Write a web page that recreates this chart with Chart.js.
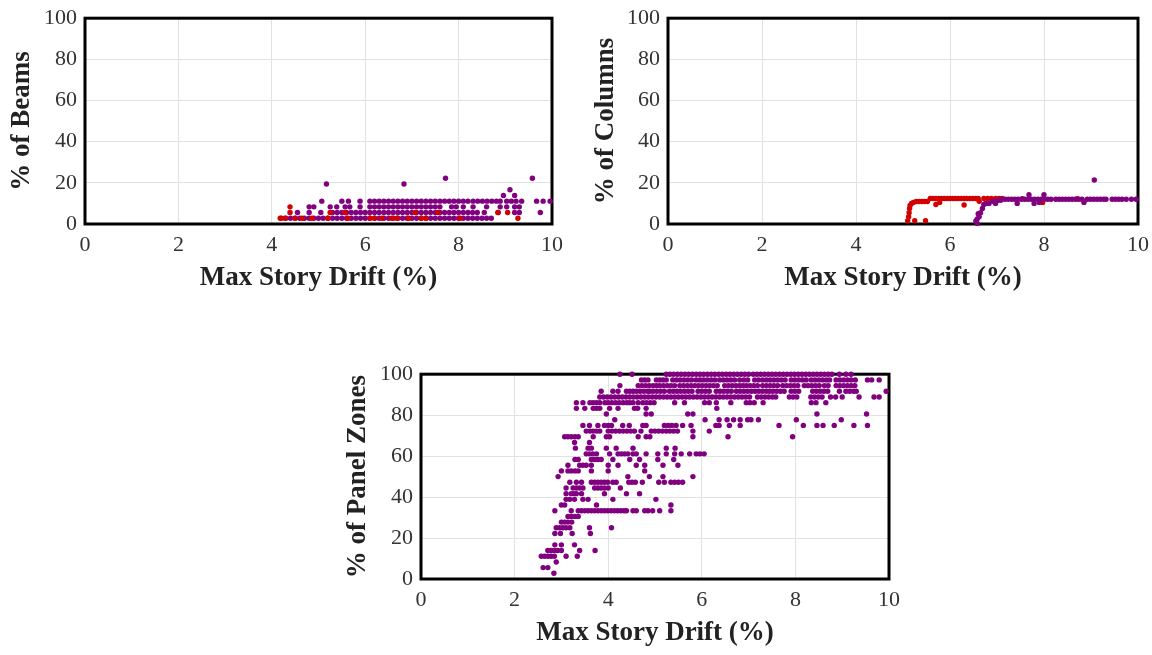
<!DOCTYPE html>
<html>
<head>
<meta charset="utf-8">
<script src="https://cdn.jsdelivr.net/npm/chart.js@4"></script>
<style>
  body { margin: 0; background: #fff; width: 1152px; height: 655px; position: relative; overflow: hidden; }
  canvas { position: absolute; }
</style>
</head>
<body>
<canvas id="beamsChart" style="left:0px;top:-3px;"></canvas>
<canvas id="columnsChart" style="left:584px;top:-3px;"></canvas>
<canvas id="panelChart" style="left:336px;top:353px;"></canvas>
<script>
// ---- data ----
var xTitle = 'Max Story Drift (%)';

// beams: one row of drift values per damage level
var beamLevels = [2.78, 5.56, 8.33, 11.11, 13.89, 16.67, 19.44, 22.22];
var beamPurpleRows = [
  [4.20,4.30,4.40,4.50,4.60,4.70,4.80,4.90,5.00,5.10,5.20,5.30,5.40,5.50,5.60,5.70,5.80,5.90,6.00,6.10,6.20,6.30,6.40,6.50,6.60,6.70,6.80,6.90,7.00,7.10,7.20,7.30,7.40,7.50,7.60,7.70,7.80,7.90,8.00,8.10,8.20,8.30,8.40,8.50,8.60,8.70],
  [4.55,4.80,5.05,5.30,5.40,5.50,5.60,5.70,5.80,5.90,6.00,6.10,6.20,6.30,6.40,6.50,6.60,6.70,6.80,6.90,7.00,7.10,7.20,7.30,7.40,7.50,7.60,7.70,7.80,7.90,8.00,8.10,8.20,8.30,8.40,8.55,8.85,9.20,9.30,9.75],
  [4.80,4.90,5.25,5.39,5.57,5.67,5.89,6.10,6.20,6.30,6.40,6.50,6.60,6.70,6.80,6.90,7.00,7.10,7.20,7.30,7.40,7.50,7.60,7.85,7.95,8.10,8.31,8.60,8.89,9.03,9.20,9.30],
  [5.07,5.50,5.64,5.89,6.10,6.20,6.30,6.40,6.50,6.60,6.70,6.80,6.90,7.00,7.10,7.20,7.30,7.40,7.50,7.60,7.70,7.80,7.90,8.00,8.10,8.20,8.31,8.41,8.51,8.61,8.71,8.81,8.89,9.03,9.13,9.23,9.35,9.67,9.81,9.96],
  [8.96,9.20],
  [9.10],
  [5.17,6.83],
  [7.72,9.58]
];
var beamRedRows = [
  [4.18,4.28,4.50,4.65,4.86,5.20,5.63,6.10,6.20,6.36,6.57,6.68,6.93,7.20,7.30,8.03,9.27],
  [4.39,5.25,5.57,7.07,7.56,8.84,9.05],
  [4.39],
  [], [], [], [], []
];

// columns: drift / percentage pairs
var colRedX = [5.10,5.25,5.48,5.12,5.13,5.14,5.15,5.18,5.22,5.28,5.34,5.40,5.46,5.52,
  5.58,5.64,5.70,5.76,5.82,5.88,5.94,6.00,6.06,6.12,6.18,6.24,6.30,6.36,6.42,6.48,6.54,6.60,
  5.70,5.78,6.30,6.62,6.72,6.80,6.88,6.97,7.04,7.11,7.54,7.97,8.00,8.71];
var colRedY = [1.6,1.6,1.6,3.5,5.5,7.5,9.0,10.0,10.5,10.9,10.9,10.9,10.9,10.9,
  12.4,12.4,12.4,12.4,12.4,12.4,12.4,12.4,12.4,12.4,12.4,12.4,12.4,12.4,12.4,12.4,12.4,12.4,
  9.5,10.5,9.2,11.0,12.4,12.4,12.4,12.4,12.4,12.4,12.3,10.5,12.3,12.3];
var colPurpleX = [6.55,6.58,6.58,6.62,6.60,6.65,6.69,6.72,6.76,6.83,6.90,6.97,7.03,7.08,6.97,
  7.10,7.17,7.24,7.31,7.38,7.45,7.52,7.59,7.66,7.73,7.80,7.87,7.94,8.01,8.08,8.15,8.25,8.32,8.39,8.46,
  8.53,8.60,8.67,8.74,8.81,8.92,8.99,9.06,9.13,9.20,9.27,9.32,9.45,9.52,9.59,9.66,9.75,9.86,9.96,
  7.68,8.00,7.43,7.79,8.85,7.90,9.07];
var colPurpleY = [1.5,0.3,2.5,3.5,5.0,5.5,7.5,9.5,10.0,10.0,11.0,11.0,11.5,11.5,10.0,
  12.0,12.0,12.0,12.0,12.0,12.0,12.0,12.0,12.0,12.0,12.0,12.0,12.0,12.0,12.0,12.0,12.0,12.0,12.0,12.0,
  12.0,12.0,12.0,12.0,12.0,12.0,12.0,12.0,12.0,12.0,12.0,12.0,12.0,12.0,12.0,12.0,12.0,12.0,12.0,
  14.2,14.2,10.0,10.0,10.5,10.5,21.4];

// panel zones: one row of drift values per level (36 zones)
var panelLevels = [2.78,5.56,8.33,11.11,13.89,16.67,19.44,22.22,25.00,27.78,30.56,33.33,36.11,38.89,41.67,44.44,
  47.22,50.00,52.78,55.56,58.33,61.11,63.89,66.67,69.44,72.22,75.00,77.78,80.56,83.33,86.11,88.89,91.67,94.44,97.22,100];
var panelRows = [
  [2.84],
  [2.61,2.71],
  [2.89],
  [2.57,2.64,2.71,2.78,2.85,3.10,3.34],
  [2.71,2.78,2.85,2.92,3.00,3.39,3.72],
  [2.86,3.00,3.28],
  [],
  [2.86,2.98,3.23,3.62],
  [2.89,2.96,3.03,3.10,3.18,3.60,4.07],
  [3.00,3.07,3.14,3.22],
  [3.14,3.21,3.29,3.36],
  [2.86,3.21,3.36,3.43,3.50,3.57,3.64,3.71,3.78,3.85,3.92,3.99,4.06,4.13,4.20,4.27,4.34,4.39,4.53,4.60,4.78,4.85,4.95,5.10,5.34],
  [3.00,3.07,3.75,5.34],
  [3.10,3.18,3.28,3.46,3.57,4.10,5.02],
  [3.10,3.21,3.27,3.32,3.43,3.92,4.39,4.67],
  [3.10,3.25,3.32,3.39,3.46,3.71,3.78,3.85,3.92,4.00,4.26],
  [3.18,3.32,3.43,3.64,3.71,3.78,3.85,3.92,3.99,4.10,4.17,4.44,4.51,4.58,4.73,5.08,5.20,5.34,5.42,5.50,5.59],
  [2.93,4.42,4.88,5.17,5.81],
  [3.00,3.14,3.21,3.29,3.36,3.64,4.00,4.78],
  [3.14,3.39,3.46,3.53,3.64,4.00,4.21,4.60,4.78,5.17,5.49],
  [3.29,3.36,3.64,3.71,3.78,3.85,4.10,4.46,4.67,5.06,5.40],
  [3.53,3.60,3.67,3.75,4.03,4.21,4.28,4.35,4.42,4.53,4.60,4.81,5.06,5.24,5.42,5.56,5.74,5.88,5.96,6.05],
  [3.30,3.57,3.64,3.96,4.17,4.53,5.24,5.43],
  [3.28,3.60],
  [3.07,3.14,3.21,3.29,3.36,3.68,3.96,4.03,4.64,4.81,4.89,5.81,6.56,7.94],
  [3.53,3.61,3.68,3.75,3.82,4.00,4.08,4.16,4.24,4.32,4.40,4.48,4.56,4.70,4.92,5.00,5.08,5.16,5.24,5.32,5.40,5.48,5.81,6.16],
  [3.46,3.60,3.78,3.92,4.00,4.07,4.31,4.45,4.74,4.81,5.20,5.28,5.36,5.45,5.59,5.77,6.30,6.37,6.59,6.82,7.65,8.17,8.46,8.59,8.83,9.25,9.54],
  [4.14,6.07,6.37,6.54,6.68,6.82,6.98,7.05,7.21,8.02,8.98],
  [3.96,4.81,4.92,5.70,5.81,8.46,9.52],
  [3.32,3.50,3.68,3.75,3.82,4.03,4.21,4.56,4.63,4.81,6.32],
  [3.32,3.46,3.61,3.68,3.75,3.82,3.93,4.00,4.08,4.16,4.24,4.32,4.40,4.46,4.53,4.64,4.74,4.82,4.90,4.98,5.42,5.63,6.06,6.16,6.31,6.62,6.95,7.03,7.12,7.31,8.34,8.44,8.65],
  [3.82,3.90,3.98,4.06,4.14,4.22,4.30,4.38,4.46,4.54,4.62,4.70,4.78,4.86,4.94,5.02,5.10,5.18,5.26,5.34,5.42,5.50,5.58,5.66,5.74,5.82,5.90,5.98,6.06,6.14,6.22,6.30,6.38,6.46,6.54,6.62,6.70,6.78,6.86,6.94,7.02,7.19,7.27,7.35,7.43,7.51,7.58,7.87,7.95,8.03,8.33,8.41,8.49,8.57,8.75,8.86,9.00,9.36,9.68,9.79],
  [3.85,4.10,4.21,4.39,4.46,4.53,4.60,4.68,4.76,4.84,4.89,4.96,5.04,5.12,5.20,5.31,5.39,5.47,5.55,5.63,5.71,5.79,5.92,6.00,6.08,6.16,6.31,6.39,6.47,6.55,6.63,6.74,6.82,6.90,6.98,7.06,7.14,7.22,7.30,7.38,7.45,7.52,7.60,7.68,7.76,7.91,7.99,8.07,8.37,8.45,8.53,8.61,8.69,8.94,9.08,9.16,9.24,9.30,9.94],
  [4.25,4.64,4.72,4.80,4.88,4.96,5.03,5.10,5.18,5.26,5.34,5.42,5.53,5.61,5.69,5.77,5.85,5.93,6.01,6.09,6.17,6.25,6.33,6.49,6.57,6.65,6.73,6.81,6.88,6.95,7.03,7.11,7.19,7.30,7.38,7.46,7.54,7.62,7.73,7.81,7.89,7.97,8.05,8.19,8.27,8.35,8.43,8.51,8.62,8.70,8.87,8.95,9.03,9.11,9.19,9.27],
  [4.71,4.78,4.85,5.03,5.10,5.17,5.24,5.38,5.46,5.54,5.62,5.70,5.78,5.88,5.96,6.04,6.12,6.20,6.28,6.38,6.46,6.54,6.62,6.70,6.81,6.90,6.98,7.13,7.21,7.30,7.38,7.46,7.54,7.62,7.70,7.78,7.91,7.99,8.07,8.15,8.23,8.34,8.42,8.50,8.58,8.66,8.73,8.87,8.95,9.03,9.11,9.19,9.28,9.54,9.63,9.79],
  [4.25,4.51,5.24,5.32,5.40,5.48,5.56,5.64,5.72,5.80,5.88,5.96,6.04,6.12,6.20,6.28,6.36,6.44,6.52,6.60,6.68,6.76,6.84,6.92,7.00,7.10,7.18,7.26,7.34,7.42,7.50,7.58,7.66,7.74,7.82,7.90,7.98,8.06,8.14,8.22,8.30,8.38,8.46,8.54,8.62,8.70,8.78,8.94,9.08,9.19]
];

// ---- helpers ----
var serif = "'Liberation Serif', 'Times New Roman', serif";
var purple = '#800080';
var red = '#d40000';

function rowsToPoints(levels, rows) {
  var pts = [];
  rows.forEach(function (xs, i) {
    xs.forEach(function (x) { pts.push({ x: x, y: levels[i] }); });
  });
  return pts;
}

function pairsToPoints(xs, ys) {
  return xs.map(function (x, i) { return { x: x, y: ys[i] }; });
}

function dotSet(points, color) {
  return {
    data: points,
    backgroundColor: color,
    borderWidth: 0,
    pointRadius: 2.7,
    pointHoverRadius: 2.7,
    clip: false
  };
}

// thick black frame round the plot area, under the dots
var frame = {
  id: 'frame',
  beforeDatasetsDraw: function (chart) {
    var a = chart.chartArea, ctx = chart.ctx;
    ctx.save();
    ctx.strokeStyle = '#000';
    ctx.lineWidth = 3;
    ctx.strokeRect(a.left, a.top, a.right - a.left, a.bottom - a.top);
    ctx.restore();
  }
};

function makeChart(id, w, h, yWidth, yTitle, datasets) {
  var canvas = document.getElementById(id);
  canvas.width = w; canvas.height = h;
  canvas.style.width = w + 'px'; canvas.style.height = h + 'px';
  return new Chart(canvas.getContext('2d'), {
    type: 'scatter',
    data: { datasets: datasets },
    plugins: [frame],
    options: {
      responsive: false,
      animation: false,
      events: [],
      layout: { padding: { left: 6, right: 14, top: 14, bottom: 0 } },
      plugins: { legend: { display: false }, tooltip: { enabled: false } },
      scales: {
        x: {
          type: 'linear', min: 0, max: 10,
          ticks: { stepSize: 2, padding: 8, color: '#333', font: { family: serif, size: 22 } },
          grid: { color: '#e2e2e2', drawTicks: false },
          border: { display: false },
          title: { display: true, text: xTitle, color: '#222', padding: 0,
                   font: { family: serif, size: 27, weight: 'bold' } },
          afterFit: function (s) { s.height = 70; }
        },
        y: {
          type: 'linear', min: 0, max: 100,
          ticks: { stepSize: 20, padding: 8, color: '#333', font: { family: serif, size: 22 } },
          grid: { color: '#e2e2e2', drawTicks: false },
          border: { display: false },
          title: { display: true, text: yTitle, color: '#222', padding: 0,
                   font: { family: serif, size: 27, weight: 'bold' } },
          afterFit: function (s) { s.width = yWidth; }
        }
      }
    }
  });
}

makeChart('beamsChart', 571, 297, 79, '% of Beams', [
  dotSet(rowsToPoints(beamLevels, beamRedRows), red),
  dotSet(rowsToPoints(beamLevels, beamPurpleRows), purple)
]);

makeChart('columnsChart', 573, 297, 78, '% of Columns', [
  dotSet(pairsToPoints(colPurpleX, colPurpleY), purple),
  dotSet(pairsToPoints(colRedX, colRedY), red)
]);

makeChart('panelChart', 572, 296, 79, '% of Panel Zones', [
  dotSet(rowsToPoints(panelLevels, panelRows), purple)
]);
</script>
</body>
</html>
